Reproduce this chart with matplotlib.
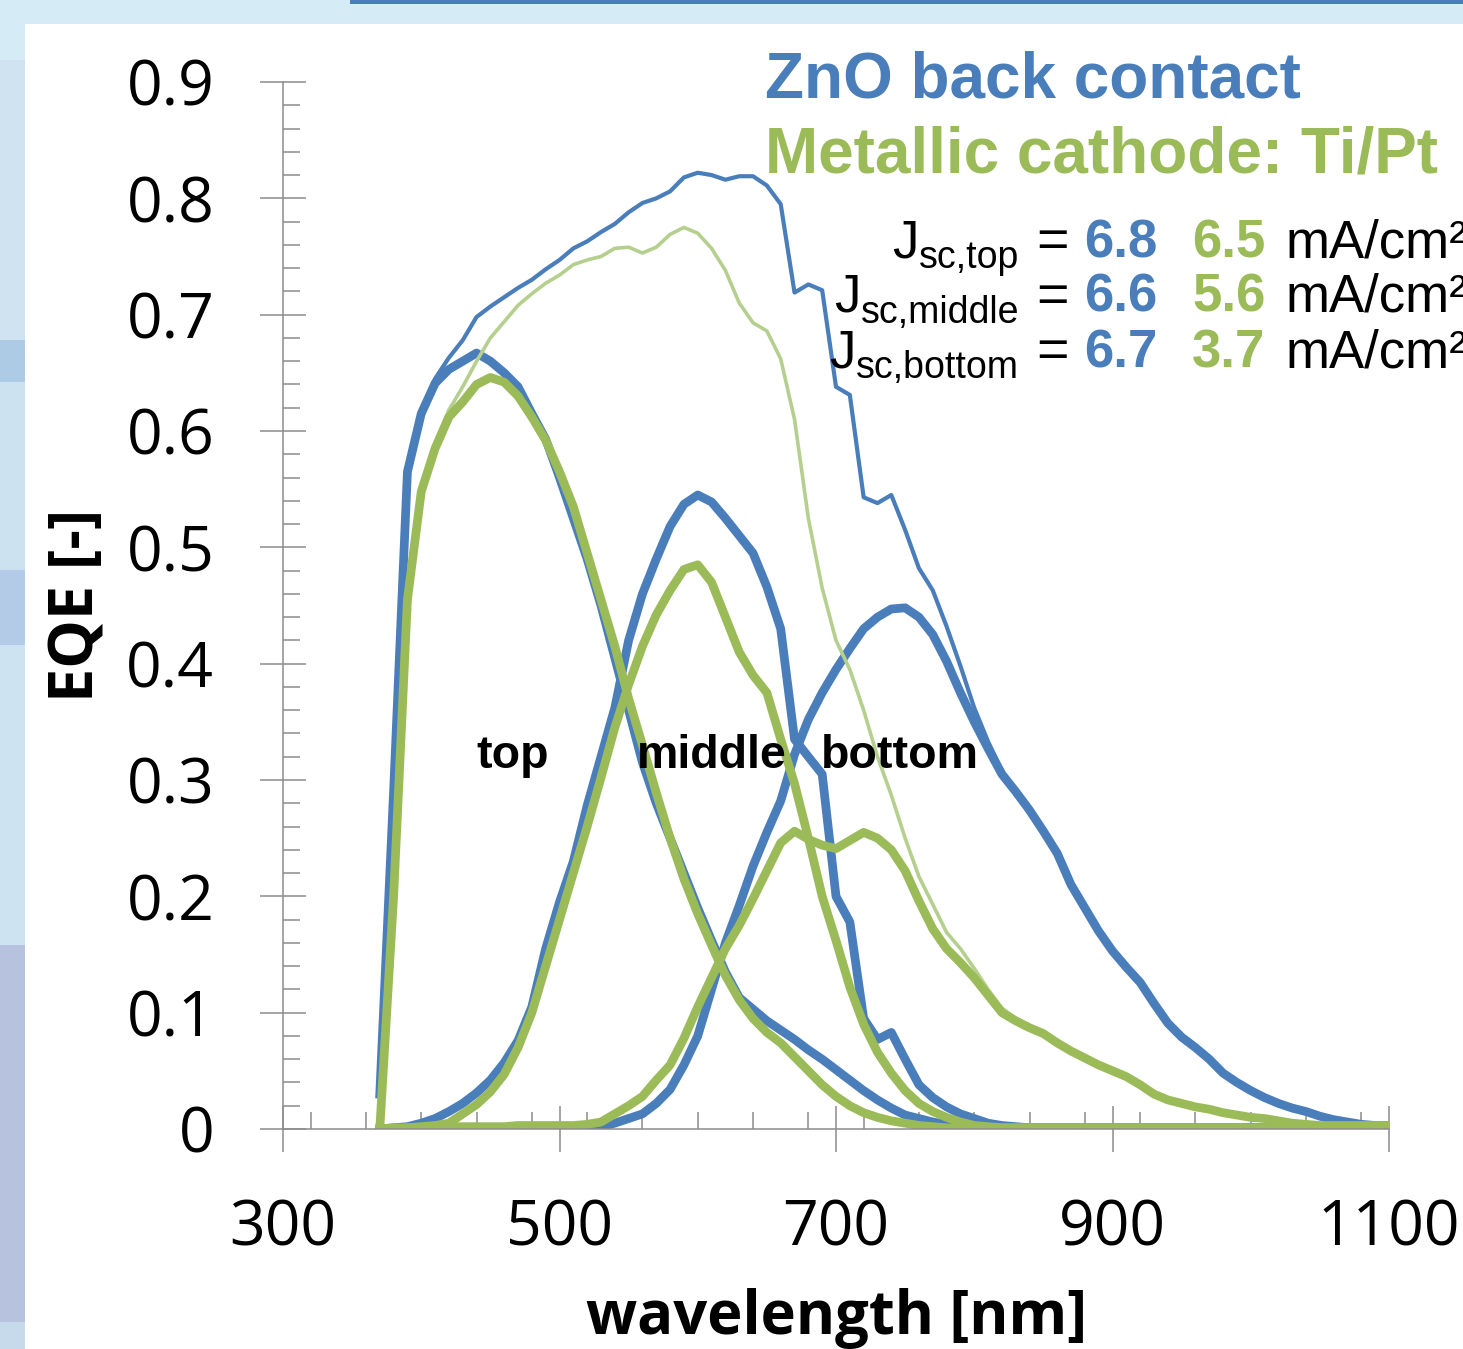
import matplotlib
matplotlib.use("Agg")
import matplotlib.pyplot as plt
import numpy as np
from matplotlib.patches import Rectangle
from matplotlib.ticker import FixedLocator, FixedFormatter, MultipleLocator

plt.rcParams['font.family'] = ['Open Sans', 'DejaVu Sans']

# ---------------- data ----------------
wavelength = np.arange(370, 1101, 10)

zno_top = [0.03, 0.29, 0.565, 0.615, 0.641, 0.653, 0.66, 0.667, 0.66, 0.65,
           0.638, 0.615, 0.593, 0.56, 0.525, 0.49, 0.45, 0.405, 0.36, 0.315,
           0.28, 0.25, 0.22, 0.19, 0.162, 0.135, 0.113, 0.103, 0.093, 0.085,
           0.077, 0.068, 0.06, 0.051, 0.042, 0.033, 0.025, 0.018, 0.012, 0.009,
           0.006, 0.004, 0.003, 0.002, 0.001, 0.001, 0.001, 0.001, 0.001, 0.001,
           0.001, 0.001, 0.001, 0.001, 0.001, 0.001, 0.001, 0.001, 0.001, 0.001,
           0.001, 0.001, 0.001, 0.001, 0.001, 0.001, 0.001, 0.001, 0.001, 0.001,
           0.001, 0.001, 0.001, 0.001]
zno_middle = [0.0, 0.001, 0.002, 0.005, 0.009, 0.015, 0.022, 0.031, 0.042, 0.057,
              0.076, 0.105, 0.155, 0.195, 0.23, 0.278, 0.32, 0.362, 0.42, 0.46,
              0.49, 0.518, 0.537, 0.545, 0.539, 0.525, 0.51, 0.495, 0.466, 0.43,
              0.335, 0.32, 0.305, 0.2, 0.178, 0.095, 0.077, 0.083, 0.06, 0.038,
              0.027, 0.019, 0.013, 0.009, 0.005, 0.003, 0.002, 0.001, 0.001, 0.001,
              0.001, 0.001, 0.001, 0.001, 0.001, 0.001, 0.001, 0.001, 0.001, 0.001,
              0.001, 0.001, 0.001, 0.001, 0.001, 0.001, 0.001, 0.001, 0.001, 0.001,
              0.001, 0.001, 0.001, 0.001]
zno_bottom = [0.0, 0.0, 0.0, 0.0, 0.0, 0.0, 0.0, 0.0, 0.0, 0.0,
              0.0, 0.0, 0.0, 0.0, 0.0, 0.001, 0.002, 0.005, 0.009, 0.013,
              0.022, 0.034, 0.055, 0.08, 0.12, 0.16, 0.192, 0.226, 0.255, 0.282,
              0.322, 0.352, 0.375, 0.395, 0.413, 0.43, 0.44, 0.447, 0.448, 0.44,
              0.425, 0.402, 0.375, 0.35, 0.327, 0.305, 0.29, 0.274, 0.256, 0.237,
              0.21, 0.19, 0.17, 0.153, 0.139, 0.126, 0.108, 0.091, 0.079, 0.07,
              0.06, 0.048, 0.04, 0.033, 0.027, 0.022, 0.018, 0.015, 0.011, 0.008,
              0.006, 0.004, 0.003, 0.003]
zno_total = [0.03, 0.29, 0.565, 0.618, 0.645, 0.663, 0.678, 0.698, 0.707, 0.715,
             0.723, 0.73, 0.739, 0.747, 0.757, 0.763, 0.771, 0.778, 0.788, 0.796,
             0.8, 0.806, 0.818, 0.822, 0.82, 0.816, 0.819, 0.819, 0.811, 0.795,
             0.719, 0.726, 0.721, 0.638, 0.631, 0.543, 0.538, 0.545, 0.515, 0.482,
             0.463, 0.432, 0.398, 0.362, 0.333, 0.308, 0.292, 0.276, 0.257, 0.238,
             0.211, 0.191, 0.171, 0.154, 0.14, 0.127, 0.109, 0.092, 0.08, 0.071,
             0.061, 0.049, 0.041, 0.034, 0.028, 0.023, 0.019, 0.016, 0.012, 0.009,
             0.007, 0.005, 0.004, 0.004]

met_top = [0.0, 0.2, 0.455, 0.548, 0.585, 0.612, 0.625, 0.64, 0.646, 0.642,
           0.63, 0.612, 0.592, 0.565, 0.535, 0.495, 0.455, 0.415, 0.37, 0.33,
           0.289, 0.25, 0.215, 0.185, 0.158, 0.132, 0.111, 0.095, 0.083, 0.074,
           0.062, 0.05, 0.038, 0.028, 0.02, 0.014, 0.01, 0.007, 0.005, 0.003,
           0.002, 0.001, 0.001, 0.001, 0.001, 0.001, 0.001, 0.001, 0.001, 0.001,
           0.001, 0.001, 0.001, 0.001, 0.001, 0.001, 0.001, 0.001, 0.001, 0.001,
           0.001, 0.001, 0.001, 0.001, 0.001, 0.001, 0.001, 0.001, 0.001, 0.001,
           0.001, 0.001, 0.001, 0.001]
met_middle = [0.0, 0.0, 0.001, 0.002, 0.003, 0.005, 0.013, 0.021, 0.032, 0.047,
              0.07, 0.1, 0.14, 0.18, 0.22, 0.26, 0.302, 0.345, 0.382, 0.415,
              0.442, 0.463, 0.481, 0.485, 0.47, 0.44, 0.41, 0.39, 0.375, 0.335,
              0.297, 0.25, 0.2, 0.162, 0.122, 0.09, 0.066, 0.048, 0.033, 0.022,
              0.015, 0.01, 0.006, 0.003, 0.002, 0.001, 0.001, 0.001, 0.001, 0.001,
              0.001, 0.001, 0.001, 0.001, 0.001, 0.001, 0.001, 0.001, 0.001, 0.001,
              0.001, 0.001, 0.001, 0.001, 0.001, 0.001, 0.001, 0.001, 0.001, 0.001,
              0.001, 0.001, 0.001, 0.001]
met_bottom = [0.0, 0.001, 0.001, 0.001, 0.002, 0.002, 0.002, 0.002, 0.002, 0.002,
              0.003, 0.003, 0.003, 0.003, 0.003, 0.004, 0.006, 0.013, 0.02, 0.028,
              0.042, 0.055, 0.078, 0.105, 0.13, 0.155, 0.175, 0.198, 0.222, 0.246,
              0.256, 0.249, 0.244, 0.241, 0.248, 0.255, 0.25, 0.24, 0.222, 0.196,
              0.172, 0.155, 0.143, 0.13, 0.115, 0.1, 0.093, 0.087, 0.082, 0.074,
              0.067, 0.061, 0.055, 0.05, 0.045, 0.038, 0.03, 0.025, 0.022, 0.019,
              0.017, 0.014, 0.012, 0.01, 0.009, 0.007, 0.005, 0.004, 0.003, 0.003,
              0.003, 0.003, 0.003, 0.003]
met_total = [0.0, 0.2, 0.455, 0.55, 0.59, 0.618, 0.638, 0.66, 0.68, 0.694,
             0.708, 0.718, 0.727, 0.734, 0.743, 0.747, 0.75, 0.757, 0.758, 0.753,
             0.758, 0.769, 0.775, 0.77, 0.757, 0.738, 0.71, 0.693, 0.686, 0.662,
             0.61, 0.525, 0.465, 0.42, 0.395, 0.36, 0.32, 0.287, 0.25, 0.217,
             0.193, 0.169, 0.155, 0.138, 0.12, 0.104, 0.095, 0.089, 0.084, 0.076,
             0.069, 0.062, 0.056, 0.051, 0.046, 0.039, 0.031, 0.026, 0.023, 0.02,
             0.018, 0.015, 0.012, 0.011, 0.009, 0.007, 0.006, 0.005, 0.004, 0.003,
             0.003, 0.003, 0.003, 0.003]

x_ticks = [300, 500, 700, 900, 1100]
x_ticklabels = ['300', '500', '700', '900', '1100']
y_ticks = [0, 0.1, 0.2, 0.3, 0.4, 0.5, 0.6, 0.7, 0.8, 0.9]
y_ticklabels = ['0', '0.1', '0.2', '0.3', '0.4', '0.5', '0.6', '0.7', '0.8', '0.9']

subcells = ['top', 'middle', 'bottom']
jsc_zno = ['6.8', '6.6', '6.7']
jsc_metal = ['6.5', '5.6', '3.7']

BLUE = '#4a7ebb'
GREEN = '#9bbb59'
LGREEN = '#b5d08e'
GRAY = '#8c8c8c'

# ---------------- figure ----------------
W, H = 1463, 1349
fig = plt.figure(figsize=(W / 100, H / 100), dpi=100, facecolor='white')


def fx(x):
    return x / W


def fy(y):
    return 1 - y / H


def band(x0, y0, x1, y1, color):
    fig.add_artist(Rectangle((fx(x0), fy(y1)), (x1 - x0) / W, (y1 - y0) / H,
                             transform=fig.transFigure, color=color, lw=0, zorder=-5))


# slide frame decoration
band(0, 0, W, 24, '#d5ebf5')
band(350, 0, W, 4, '#4a7ebb')
band(0, 0, 25, 60, '#d5ebf5')
band(0, 60, 25, 340, '#cfe3f1')
band(0, 340, 25, 382, '#aecbe6')
band(0, 382, 25, 570, '#cde2f1')
band(0, 570, 25, 645, '#b3cbe6')
band(0, 645, 25, 945, '#cde3f1')
band(0, 945, 25, 1322, '#b6c2de')
band(0, 1322, 25, H, '#c6daeb')

ax = fig.add_axes([fx(283), fy(1129), 1106 / W, 1047 / H])
ax.set_facecolor('white')

ax.plot(wavelength, zno_total, color=BLUE, lw=3.0)
ax.plot(wavelength, zno_top, color=BLUE, lw=6.3)
ax.plot(wavelength, zno_middle, color=BLUE, lw=6.3)
ax.plot(wavelength, zno_bottom, color=BLUE, lw=6.3)
ax.plot(wavelength, met_total, color=LGREEN, lw=2.6)
ax.plot(wavelength, met_top, color=GREEN, lw=6.3)
ax.plot(wavelength, met_middle, color=GREEN, lw=6.3)
ax.plot(wavelength, met_bottom, color=GREEN, lw=6.3)

ax.set_xlim(300, 1100)
ax.set_ylim(0, 0.9)
for s in ['top', 'right']:
    ax.spines[s].set_visible(False)
for s in ['left', 'bottom']:
    ax.spines[s].set_color(GRAY)
    ax.spines[s].set_linewidth(1.1)

ax.xaxis.set_major_locator(FixedLocator(x_ticks))
ax.xaxis.set_major_formatter(FixedFormatter(x_ticklabels))
ax.yaxis.set_major_locator(FixedLocator(y_ticks))
ax.yaxis.set_major_formatter(FixedFormatter(y_ticklabels))
ax.xaxis.set_minor_locator(MultipleLocator(40))
ax.yaxis.set_minor_locator(MultipleLocator(0.02))
ax.tick_params(which='major', direction='inout', length=33, width=1.1, color=GRAY,
               pad=33, labelsize=45, labelcolor='black')
ax.tick_params(which='minor', direction='in', length=12, width=1.1, color=GRAY)

ax.set_xlabel('wavelength [nm]', fontsize=43, fontweight='bold')
ax.set_ylabel('EQE [-]', fontsize=44, fontweight='bold')
ax.xaxis.set_label_coords(0.5, (1129 - 1288) / 1047)
ax.yaxis.set_label_coords((108 - 283) / 1106, 0.5)

# curve labels
label_x = [466, 610, 746]
for name, xv in zip(subcells, label_x):
    ax.text(xv, 0.31, name, fontsize=33.5, fontweight='bold', family='Liberation Sans',
            ha='center', va='baseline', color='black')

# titles
fig.text(fx(765), fy(97), 'ZnO back contact', color=BLUE, fontsize=46,
         fontweight='bold', family='Liberation Sans', ha='left', va='baseline')
fig.text(fx(765), fy(173), 'Metallic cathode: Ti/Pt', color=GREEN, fontsize=46,
         fontweight='bold', family='Liberation Sans', ha='left', va='baseline')

# Jsc table
renderer = fig.canvas.get_renderer()
baselines = [257, 312, 367]
for name, zv, mv, yb in zip(subcells, jsc_zno, jsc_metal, baselines):
    sub = fig.text(fx(1019), fy(yb + 11), 'sc,' + name, fontsize=27,
                   family='Liberation Sans', ha='right', va='baseline')
    bb = sub.get_window_extent(renderer)
    fig.text(bb.x0 / W, fy(yb), 'J', fontsize=38, family='Liberation Sans',
             ha='right', va='baseline')
    fig.text(fx(1036), fy(yb), '=', fontsize=40, family='Liberation Sans',
             ha='left', va='baseline')
    fig.text(fx(1084), fy(yb), zv, fontsize=38, family='Liberation Sans',
             fontweight='bold', color=BLUE, ha='left', va='baseline')
    fig.text(fx(1192), fy(yb), mv, fontsize=38, family='Liberation Sans',
             fontweight='bold', color=GREEN, ha='left', va='baseline')
    fig.text(fx(1286), fy(yb), 'mA/cm²', fontsize=38, family='Liberation Sans',
             ha='left', va='baseline')

fig.savefig('out.png', dpi=100, facecolor='white')
